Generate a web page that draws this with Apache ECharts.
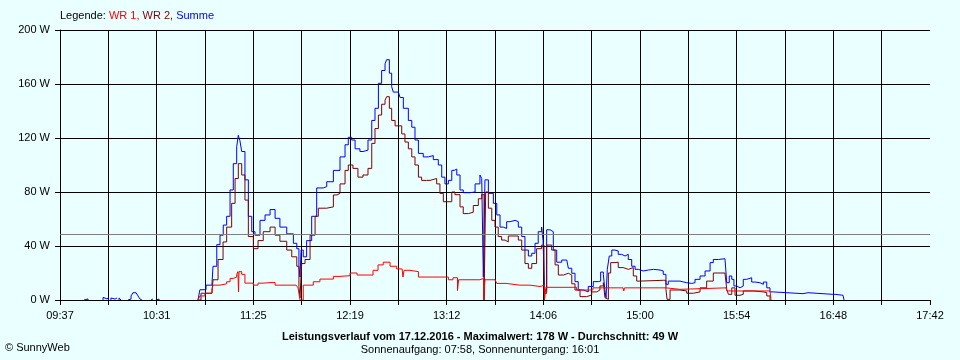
<!DOCTYPE html>
<html>
<head>
<meta charset="utf-8">
<script src="https://cdn.jsdelivr.net/npm/echarts@6/dist/echarts.min.js"></script>
<style>
  html, body { margin: 0; padding: 0; background: #EAFFFF; }
  #chart { width: 960px; height: 360px; }
</style>
</head>
<body>
<div id="chart"></div>
<script>
// x = minutes after 09:37, y = W
const timeLabels = ['09:37','10:31','11:25','12:19','13:12','14:06','15:00','15:54','16:48','17:42'];
const spanMinutes = 485;
const yTickValues = [0, 40, 80, 120, 160, 200];
const averageW = 49;

const wr1 = [
  [76.9,0],[78.0,3],[80.8,5],[84.7,8],[85.3,11],[89.2,12],[92.9,13.5],[94.8,16],[96.6,17],[98.5,19],
  [99.2,21],[99.5,6],[99.8,21],[101.3,19],[103.1,12.5],[107.8,11],[110.4,12.5],[113.2,13],[118.7,13],
  [119.9,11],[131.6,11],[132.7,9],[133.8,0],[134.9,0],[135.6,11],[139.4,11],[141.2,13.5],[144.9,15.5],
  [152.4,17.5],[156.1,18],[161.7,20],[165.6,18.5],[171.1,18.5],[174.5,22],[177.3,26],[180.2,28],
  [184.0,25],[187.7,23],[190.7,22],[191.2,17],[191.8,22],[195.1,21],[199.8,17],[214.6,17],[216.5,15],
  [219.1,16.5],[221.6,7],[222.2,15],[232.5,15],[234.1,16],[236.1,0],[236.9,15],[242.5,14.8],
  [243.5,12.3],[248.6,11],[256.4,11],[262.0,10],[267.6,11],[270.1,0],[270.9,9.4],[286.0,9.4],
  [288.0,7.4],[295.5,7.5],[297.1,9],[313.9,9],[314.3,6.7],[314.7,9],[337.8,9],[338.4,7.9],[345.6,9],
  [371.3,9],[371.8,6.7],[395.8,6.7],[396.4,0]
];

const wr2 = [
  [76.9,0],[78.6,5],[84.7,5],[85.3,15],[88.1,30],[90.9,43],[92.9,54],[95.7,71.6],[97.6,90],[99.4,101],
  [101.3,92.6],[103.1,74],[105.0,47],[107.8,38],[110.4,44],[113.3,50.6],[117.1,54],[119.9,48],
  [122.6,43.5],[126.4,37],[129.2,32],[132.0,25],[133.2,10],[133.8,1.5],[134.7,27],[136.6,30],
  [139.4,48],[142.2,62],[144.0,68],[148.7,69],[152.4,77.8],[154.4,79],[156.1,86],[158.9,96],
  [160.7,100],[163.3,97.5],[166.1,91],[168.9,92.6],[171.7,97.5],[173.8,116],[175.6,127],[177.5,137],
  [179.3,145],[181.2,148],[182.1,150.6],[183.6,142],[184.9,133],[186.8,129],[188.6,129],[190.5,123],
  [192.3,117],[194.2,112],[196.1,106],[197.9,100],[199.8,91],[201.6,88.6],[204.4,88.6],[206.3,90],
  [210.0,86],[211.8,79],[213.7,72.8],[215.6,72.8],[218.4,80],[220.2,78],[223.0,69],[224.8,64],
  [227.6,65],[230.4,70],[233.2,75],[235.1,78],[236.4,0],[237.3,80],[238.8,68],[240.7,59],[242.5,54],
  [244.3,47],[246.2,44.4],[248.1,43],[249.9,47.4],[253.7,47.4],[255.5,44.4],[257.4,37],[259.2,27],
  [261.1,23.5],[263.0,27],[265.7,38],[268.5,40.7],[269.8,5],[271.3,40.7],[274.1,37],[276.0,26],
  [277.8,18.5],[280.6,19.8],[283.4,18.5],[285.3,12],[287.1,7.4],[289.9,2.5],[293.6,3.7],[296.4,6],
  [299.2,7.4],[301.0,10.4],[302.9,12.8],[303.8,1.7],[304.7,0.5],[305.7,20],[307.0,27.7],[309.4,28],
  [311.2,24],[314.0,22.7],[316.8,24],[319.6,17.8],[321.5,14],[323.3,14.6],[336.3,14.6],[337.8,7.9],
  [338.4,0.5],[340.1,7.4],[345.6,6.7],[349.4,5],[353.1,6],[356.8,9],[360.5,14],[364.2,20],[370.7,20.7],
  [371.7,7.9],[372.6,4.2],[374.5,9],[376.3,3.5],[379.1,4.2],[380.9,6.7],[386.5,6],[392.1,5.4],
  [394.0,3],[395.8,0]
];

// null separates the small early readings (nothing drawn while the sum is 0)
const summe = [
  [13.4,0],[13.4,0.8],[15.6,0], null,
  [24.0,0],[24.0,2],[25.1,0.8],[26.2,2],[27.3,0], null,
  [28.4,0],[28.4,1.5],[29.5,0.7],[30.7,1.5],[31.8,0], null,
  [32.9,0],[32.9,1.5],[34.0,0], null,
  [37.9,0],[37.9,0.7],[39.6,3],[40.7,5.4],[42.4,5.4],[43.5,3],[44.6,0.7],[45.7,0], null,
  [50.7,0],[50.7,0.7],[51.8,0], null,
  [53.5,0],[53.5,0.7],[55.2,0], null,
  [76.9,0],[78.0,7.6],[81.4,11],[84.7,11],[85.3,25],[87.4,41],
  [89.2,48],[91.0,55.5],[92.9,62],[94.8,81.5],[96.6,101],[98.5,113.5],[99.4,122],[100.3,118],
  [101.3,110],[103.1,89],[105.0,62],[106.9,50.6],[108.7,48],[111.5,59],[114.3,63],[117.1,67],
  [119.9,60.5],[122.6,54],[126.4,49],[130.1,42],[132.0,38],[133.2,25],[133.8,17],[134.4,37],
  [135.6,32],[137.5,44],[140.3,62],[143.1,83],[146.8,84],[148.7,87.6],[152.4,96],[154.4,96],
  [156.1,106],[158.9,115],[160.7,120.5],[162.6,118.5],[164.5,112],[167.2,110],[168.9,111],
  [171.7,118.5],[173.8,133],[175.6,142],[177.5,160.5],[179.3,170],[181.2,175],[182.1,178],
  [183.6,168],[184.9,158],[185.8,154],[188.6,153],[189.6,150],[191.4,142],[194.2,133],[196.1,128],
  [197.9,118.5],[199.8,108.6],[202.5,106],[205.3,107],[208.1,104],[210.9,100],[212.8,91],[214.6,86],
  [216.5,88.6],[218.4,96],[219.7,97],[221.2,92.6],[223.0,81.5],[224.8,79.5],[228.6,80],[231.4,86],
  [234.1,92.6],[235.1,90],[236.0,17],[236.9,89],[238.8,79],[239.7,79],[241.6,71.6],[243.5,63],
  [245.3,54],[247.1,53],[249.0,58],[250.9,59],[253.7,58],[255.5,54],[257.4,47],[259.2,37],
  [261.1,32.6],[263.0,34.6],[264.8,42],[266.6,50.6],[268.5,54],[269.3,44],[270.1,7.4],[271.3,52],
  [273.2,50.6],[275.0,37],[276.9,28],[279.7,29.6],[282.5,29.6],[283.4,23.5],[285.3,19.8],[287.1,13.6],
  [288.9,7.4],[291.7,6],[294.5,10],[297.3,13.6],[300.1,14],[301.4,20.7],[302.9,19],[303.8,6.7],
  [304.4,1.7],[305.1,22.7],[306.2,32.6],[307.6,37],[309.4,36.3],[311.2,33.8],[313.1,32.6],[315.0,33.8],
  [316.8,30],[318.7,25],[320.6,22.7],[322.4,21.5],[325.2,22.2],[328.0,22.7],[330.8,22.2],[334.5,21.5],
  [336.3,19],[337.8,11.6],[339.1,14],[345.6,12.8],[349.4,12.3],[352.2,12.8],[354.0,15.3],[356.8,17.8],
  [359.6,21.5],[362.4,27.7],[364.2,30],[367.0,30.6],[370.7,30.6],[371.7,12.8],[373.1,17.8],
  [374.5,15.3],[375.7,10.4],[377.2,9],[379.1,10.4],[380.9,15.3],[382.8,16.5],[385.6,13.3],[387.4,12.8],
  [390.2,11.6],[392.1,13.3],[394.0,9],[395.8,6],[397.5,4.7],[414.2,4.7],[414.8,5.4],[417.0,5.4],
  [418.1,4.2],[430.9,4.2],[432.1,3.5],[436.5,3.5],[437.1,0]
];

const FONT = 'Liberation Sans, Arial, sans-serif';
const tickStep = spanMinutes / 18;

const chart = echarts.init(document.getElementById('chart'), null, { renderer: 'canvas' });
chart.setOption({
  backgroundColor: '#EAFFFF',
  animation: false,
  textStyle: { fontFamily: FONT },
  grid: { left: 60, right: 30, top: 30, bottom: 60, containLabel: false },
  xAxis: {
    type: 'value', min: 0, max: spanMinutes, interval: tickStep,
    axisLine: { show: true, onZero: false, lineStyle: { color: '#000', width: 1 } },
    axisTick: { show: true, length: 5, lineStyle: { color: '#000' } },
    splitLine: { show: true, showMaxLine: false, lineStyle: { color: '#000', width: 1 } },
    axisLabel: {
      color: '#000', fontSize: 11, fontFamily: FONT, margin: 10,
      showMinLabel: true, showMaxLabel: true, hideOverlap: false,
      formatter: function (v) {
        const i = Math.round(v / tickStep);
        return (i % 2 === 0) ? (timeLabels[i / 2] || '') : '';
      }
    }
  },
  yAxis: {
    type: 'value', min: 0, max: 200, interval: 40,
    axisLine: { show: true, lineStyle: { color: '#000', width: 1 } },
    axisTick: { show: true, length: 5, lineStyle: { color: '#000' } },
    splitLine: { show: true, lineStyle: { color: '#000', width: 1 } },
    axisLabel: {
      color: '#000', fontSize: 11, fontFamily: FONT, margin: 10,
      formatter: function (v) { return yTickValues.indexOf(v) >= 0 ? v + ' W' : ''; }
    }
  },
  series: [
    {
      name: 'Summe', type: 'line', step: 'end', data: summe, showSymbol: false, z: 2,
      connectNulls: false,
      lineStyle: { color: '#0000FF', width: 1 }, itemStyle: { color: '#0000FF' },
      markLine: {
        silent: true, symbol: 'none', label: { show: false },
        lineStyle: { color: '#808080', type: 'solid', width: 1 },
        data: [{ yAxis: averageW }]
      }
    },
    {
      name: 'WR 2', type: 'line', step: 'end', data: wr2, showSymbol: false, z: 3,
      lineStyle: { color: '#800000', width: 1 }, itemStyle: { color: '#800000' }
    },
    {
      name: 'WR 1', type: 'line', step: 'end', data: wr1, showSymbol: false, z: 4,
      lineStyle: { color: '#FF0000', width: 1 }, itemStyle: { color: '#FF0000' }
    }
  ],
  graphic: [
    {
      type: 'text', left: 60, top: 10,
      style: {
        text: 'Legende: {r|WR 1,} {d|WR 2,} {b|Summe}',
        fontSize: 11, fontFamily: FONT, fill: '#000',
        rich: {
          r: { fill: '#FF0000', fontSize: 11, fontFamily: FONT },
          d: { fill: '#800000', fontSize: 11, fontFamily: FONT },
          b: { fill: '#0000FF', fontSize: 11, fontFamily: FONT }
        }
      }
    },
    {
      type: 'text', x: 480, y: 337,
      style: {
        text: 'Leistungsverlauf vom 17.12.2016 - Maximalwert: 178 W - Durchschnitt: 49 W',
        fontSize: 11, fontWeight: 'bold', fontFamily: FONT, fill: '#000',
        align: 'center', verticalAlign: 'middle'
      }
    },
    {
      type: 'text', x: 480, y: 350,
      style: {
        text: 'Sonnenaufgang: 07:58, Sonnenuntergang: 16:01',
        fontSize: 11, fontFamily: FONT, fill: '#000',
        align: 'center', verticalAlign: 'middle'
      }
    },
    {
      type: 'text', x: 5, y: 348,
      style: {
        text: '\u00A9 SunnyWeb',
        fontSize: 11, fontFamily: FONT, fill: '#000',
        align: 'left', verticalAlign: 'middle'
      }
    }
  ]
});
</script>
</body>
</html>
